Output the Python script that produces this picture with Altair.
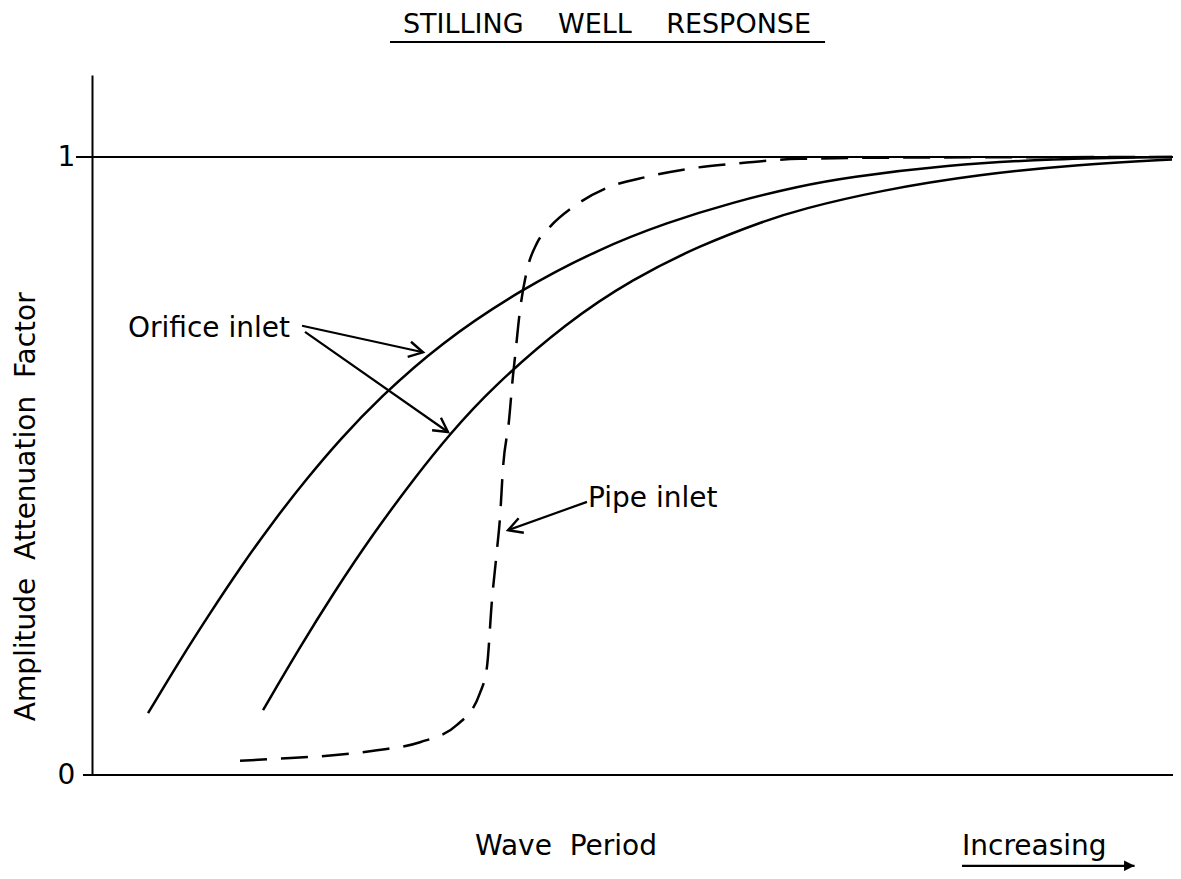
import math
import altair as alt
import pandas as pd

# ---------------- data ----------------
# x: wave period (arbitrary, increasing), y: amplitude attenuation factor
orifice_a_x = [0.516, 0.810, 1.087, 1.363, 1.667, 1.980, 2.284, 2.652, 3.204, 3.941,
               4.678, 5.295, 5.902, 6.519, 6.952, 7.873, 8.821, 9.945]
orifice_a_y = [0.100, 0.186, 0.262, 0.335, 0.410, 0.480, 0.543, 0.611, 0.698, 0.785,
               0.852, 0.894, 0.927, 0.953, 0.967, 0.987, 0.997, 1.000]

orifice_b_x = [1.575, 1.915, 2.219, 2.587, 2.993, 3.297, 3.665, 4.374, 4.982, 5.599,
               6.215, 6.519, 7.256, 8.177, 9.098, 9.945]
orifice_b_y = [0.105, 0.207, 0.293, 0.390, 0.486, 0.552, 0.624, 0.733, 0.803, 0.857,
               0.898, 0.915, 0.946, 0.972, 0.988, 0.996]

pipe_x = [1.363, 1.667, 2.219, 2.624, 3.020, 3.361, 3.573, 3.637, 3.683, 3.729,
          3.757, 3.785, 3.840, 3.877, 3.895, 3.941, 4.006, 4.098, 4.217, 4.429,
          4.742, 5.110, 5.534, 5.902, 6.519, 7.440, 9.945]
pipe_y = [0.023, 0.026, 0.032, 0.040, 0.053, 0.081, 0.133, 0.175, 0.283, 0.364,
          0.417, 0.498, 0.574, 0.647, 0.676, 0.752, 0.817, 0.861, 0.887, 0.919,
          0.950, 0.968, 0.982, 0.989, 0.997, 0.999, 1.000]

tick_values = [0, 1]

# annotation texts and their anchor points (data units)
title_text = "STILLING\u00a0\u00a0\u00a0\u00a0WELL\u00a0\u00a0\u00a0\u00a0RESPONSE"
label_texts = ["Orifice inlet", "Pipe inlet", "Wave\u00a0\u00a0Period", "Increasing"]
label_x = [0.331, 4.567, 3.527, 8.011]
label_y = [0.709, 0.434, -0.129, -0.129]
ytitle_text = "Amplitude\u00a0\u00a0Attenuation\u00a0\u00a0Factor"

arrow_tail_x = [1.934, 1.961, 4.558]
arrow_tail_y = [0.727, 0.717, 0.442]
arrow_head_x = [3.048, 3.278, 3.831]
arrow_head_y = [0.684, 0.555, 0.396]

# ---------------- layout ----------------
X_DOMAIN = [0, 9.954]
Y_DOMAIN = [0, 1.1327]
W, H = 1081, 700
PX_X = W / (X_DOMAIN[1] - X_DOMAIN[0])
PX_Y = H / (Y_DOMAIN[1] - Y_DOMAIN[0])
FONT = "DejaVu Sans"

xs = alt.Scale(domain=X_DOMAIN, nice=False, zero=False)
ys = alt.Scale(domain=Y_DOMAIN, nice=False, zero=False)

y_axis = alt.Axis(values=tick_values, format="d", title=None, ticks=False, grid=False,
                  domain=True, domainColor="black", domainWidth=2,
                  labelFont=FONT, labelFontSize=28, labelColor="black",
                  labelPadding=26, labelAlign="center", labelBaseline="middle",
                  labelFlush=False, labelOverlap=False, labelBound=False)


def X(field):
    return alt.X(field, type="quantitative", scale=xs, axis=None)


def Y(field):
    return alt.Y(field, type="quantitative", scale=ys, axis=y_axis)


solid_df = pd.concat([
    pd.DataFrame({"x": orifice_a_x, "y": orifice_a_y, "series": "Orifice inlet A"}),
    pd.DataFrame({"x": orifice_b_x, "y": orifice_b_y, "series": "Orifice inlet B"}),
])
pipe_df = pd.DataFrame({"x": pipe_x, "y": pipe_y, "series": "Pipe inlet"})

solid = alt.Chart(solid_df).mark_line(
    color="black", strokeWidth=2.5, interpolate="basis", clip=False
).encode(x=X("x"), y=Y("y"), detail="series:N")

dashed = alt.Chart(pipe_df).mark_line(
    color="black", strokeWidth=2.5, interpolate="monotone", strokeDash=[27, 14], clip=False
).encode(x=X("x"), y=Y("y"))

# reference line at 1 and the x axis line, both running slightly left of the y axis
ref_df = pd.DataFrame({
    "y": [0, 1],
    "x0": [X_DOMAIN[0] - 9 / PX_X, X_DOMAIN[0] - 16 / PX_X],
    "x1": [X_DOMAIN[1], X_DOMAIN[1]],
})
ref_lines = alt.Chart(ref_df).mark_rule(color="black", strokeWidth=2).encode(
    x=X("x0"), x2="x1", y=Y("y")
)

# arrows
arr_df = pd.DataFrame({"tx": arrow_tail_x, "ty": arrow_tail_y,
                       "hx": arrow_head_x, "hy": arrow_head_y})
arr_df["ang"] = [
    math.degrees(math.atan2(-(hy - ty) * PX_Y, (hx - tx) * PX_X)) % 360
    for tx, ty, hx, hy in zip(arr_df.tx, arr_df.ty, arr_df.hx, arr_df.hy)
]
arrow_lines = alt.Chart(arr_df).mark_rule(color="black", strokeWidth=2.2).encode(
    x=X("tx"), y=Y("ty"), x2="hx", y2="hy"
)
arrow_heads = alt.Chart(arr_df).mark_point(
    shape="M-1,-0.55L0,0L-1,0.55", filled=False, color="black",
    strokeWidth=2.4, size=784, opacity=1
).encode(x=X("hx"), y=Y("hy"), angle=alt.Angle("ang:Q", scale=None))

# "Increasing" arrow
inc_df = pd.DataFrame({"x0": [8.011], "x1": [9.60], "y": [-0.147]})
inc_line = alt.Chart(inc_df).mark_rule(color="black", strokeWidth=2.2).encode(
    x=X("x0"), x2="x1", y=Y("y")
)
inc_head = alt.Chart(inc_df).mark_point(
    shape="M-1,-0.5L0,0L-1,0.5Z", filled=True, color="black", size=441, opacity=1
).encode(x=X("x1"), y=Y("y"))

# texts
lab_df = pd.DataFrame({"x": label_x, "y": label_y, "t": label_texts})
labels = alt.Chart(lab_df).mark_text(
    font=FONT, fontSize=28, color="black", align="left", baseline="alphabetic"
).encode(x=X("x"), y=Y("y"), text="t:N")

title_df = pd.DataFrame({"x": [4.742], "y": [1.2006], "t": [title_text],
                         "ux0": [2.744], "ux1": [6.750], "uy": [1.186]})
title = alt.Chart(title_df).mark_text(
    font=FONT, fontSize=27, color="black", align="center", baseline="alphabetic"
).encode(x=X("x"), y=Y("y"), text="t:N")
underline = alt.Chart(title_df).mark_rule(color="black", strokeWidth=2).encode(
    x=X("ux0"), x2="ux1", y=Y("uy")
)

ytitle_df = pd.DataFrame({"x": [-0.599], "y": [0.434], "t": [ytitle_text]})
ytitle = alt.Chart(ytitle_df).mark_text(
    font=FONT, fontSize=28, color="black", align="center", baseline="middle", angle=270
).encode(x=X("x"), y=Y("y"), text="t:N")

chart = alt.layer(
    solid, dashed, ref_lines, arrow_lines, arrow_heads, inc_line, inc_head,
    labels, title, underline, ytitle
).properties(
    width=W, height=H,
    padding={"left": 84, "top": 67, "right": 0, "bottom": 96},
    autosize=alt.AutoSizeParams(type="none"),
    background="white",
).configure_view(strokeWidth=0)

chart.save("out.html", embed_options={"renderer": "svg", "actions": False})
